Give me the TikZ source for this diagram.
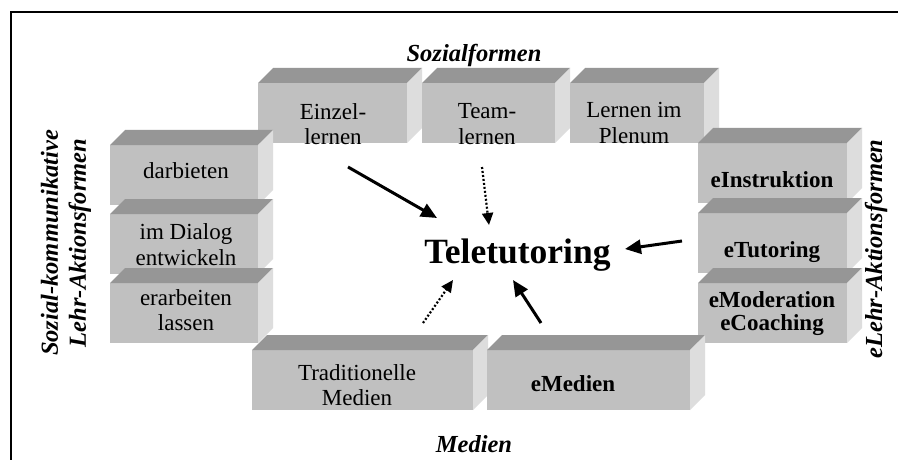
\documentclass[tikz,border=0pt]{standalone}
\usepackage{fontspec}
\setmainfont{Liberation Serif}
\usetikzlibrary{arrows.meta}
\definecolor{frontc}{RGB}{192,192,192}
\definecolor{topc}{RGB}{150,150,150}
\definecolor{sidec}{RGB}{221,221,221}
\newcommand\mkbox[4]{%
  \node[frontface, minimum width=#4pt, anchor=north west] (#1) at (#2,#3) {};
  \fill[topc] (#1.north west) -- ++(15,-15) -- ([shift={(15,-15)}]#1.north east) -- (#1.north east) -- cycle;
  \fill[sidec] (#1.north east) -- ++(15,-15) -- ([shift={(15,-15)}]#1.south east) -- (#1.south east) -- cycle;}
\tikzset{
  frontface/.style={fill=frontc, draw=none, inner sep=0pt, outer sep=0pt, minimum height=60pt},
  lbl/.style={inner sep=0pt, align=center, font=\fontsize{23}{25.5}\selectfont},
  blbl/.style={inner sep=0pt, align=center, font=\fontsize{23}{23}\selectfont\bfseries},
  ttl/.style={inner sep=0pt, align=center, font=\fontsize{24.5}{28}\selectfont\bfseries\itshape},
  solidarrow/.style={line width=3pt, -{Triangle[length=16pt,width=14pt]}},
  dotarrow/.style={line width=2.2pt, dash pattern=on 2pt off 2pt, -{Triangle[length=12pt,width=11pt]}}
}
\begin{document}
\begin{tikzpicture}[x=1pt,y=-1pt]
\useasboundingbox (0,0) rectangle (898,460);
\fill[white] (0,0) rectangle (898,460);
% frame
\draw[line width=2.5pt] (11,460) -- (11,12) -- (898,12);
% top row
\mkbox{einzel}{258}{83}{149}
\mkbox{team}{422}{83}{133}
\mkbox{plenum}{570}{83}{134}
% left column
\mkbox{darb}{110}{145}{148}
\mkbox{dialog}{110}{214}{148}
\mkbox{erarb}{110}{283}{148}
% right column
\mkbox{einstr}{698}{143}{149}
\mkbox{etut}{698}{213}{149}
\mkbox{emod}{698}{283}{149}
% bottom row
\mkbox{trad}{252}{350}{221}
\mkbox{emed}{487}{350}{203}
% labels in boxes
\node[lbl] (einzel-t) at (333,124) {Einzel-\\lernen};
\node[lbl] (team-t) at (487,124) {Team-\\lernen};
\node[lbl] (plenum-t) at (634,123) {Lernen im\\Plenum};
\node[lbl, anchor=base] (darb-t) at (186,178) {darbieten};
\node[lbl] (dialog-t) at (186,244.5) {im Dialog\\entwickeln};
\node[lbl] (erarb-t) at (186,310) {erarbeiten\\lassen};
\node[blbl, anchor=base] (einstr-t) at (772,187) {eInstruktion};
\node[blbl, anchor=base] (etut-t) at (772,257) {eTutoring};
\node[blbl] (emod-t) at (772,314) {eModeration\\eCoaching};
\node[lbl] (trad-t) at (357,385) {Traditionelle\\Medien};
\node[blbl, anchor=base] (emed-t) at (573,391) {eMedien};
% titles
\node[ttl, anchor=base] (sozial) at (474,62) {Sozialformen};
\node[ttl, anchor=base] (medien) at (474,452.5) {Medien};
\node[ttl, rotate=90] (skl) at (66,243) {Sozial-kommunikative\\Lehr-Aktionsformen};
\node[ttl, rotate=90] (ela) at (876,249) {eLehr-Aktionsformen};
% centre
\node[inner sep=0pt, anchor=base, font=\fontsize{35.5}{40}\selectfont\bfseries] (tele) at (517.5,263) {Teletutoring};
% arrows
\coordinate (a1s) at (348,167); \coordinate (a1e) at (437,218);
\coordinate (a2s) at (482,167); \coordinate (a2e) at (489,225);
\coordinate (a3s) at (682,241); \coordinate (a3e) at (625,249);
\coordinate (a4s) at (423,323); \coordinate (a4e) at (453,280);
\coordinate (a5s) at (541,323); \coordinate (a5e) at (513,280);
\draw[solidarrow] (a1s) -- (a1e);
\draw[dotarrow] (a2s) -- (a2e);
\draw[solidarrow] (a3s) -- (a3e);
\draw[dotarrow] (a4s) -- (a4e);
\draw[solidarrow] (a5s) -- (a5e);
\end{tikzpicture}
\end{document}
